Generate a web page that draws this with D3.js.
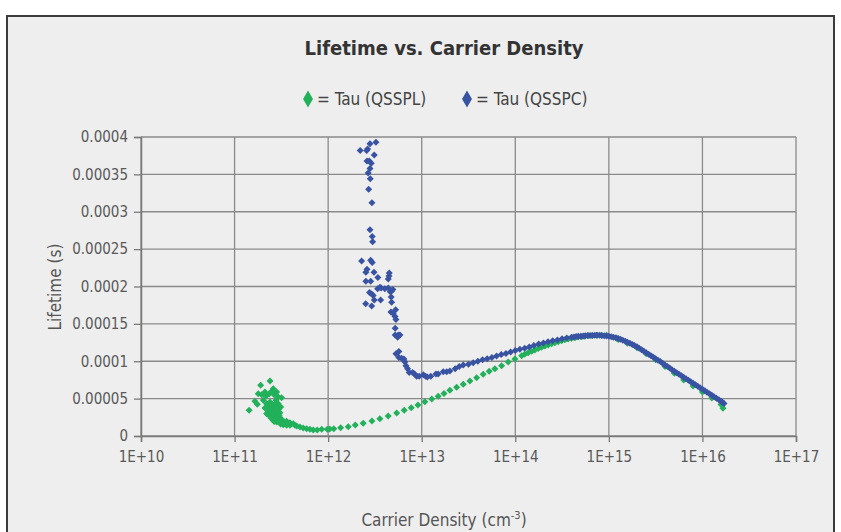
<!DOCTYPE html>
<html lang="en">
<head>
<meta charset="utf-8">
<title>Lifetime vs. Carrier Density</title>
<script src="https://cdnjs.cloudflare.com/ajax/libs/d3/7.8.5/d3.min.js"></script>
<style>
  body { margin: 0; background: #fff; }
  svg { display: block; font-family: 'Liberation Sans Narrow', 'Arial Narrow', 'DejaVu Sans Condensed', sans-serif; }
  .grid line { stroke: #8a8a8a; stroke-width: 1.3; }
  .tick text { fill: #595959; font-size: 15px; }
</style>
</head>
<body>
<svg id="chart" width="841" height="532"></svg>
<script>
// tick values and labels
var xTicks = [1e10, 1e11, 1e12, 1e13, 1e14, 1e15, 1e16, 1e17];
var xTickLabels = ["1E+10", "1E+11", "1E+12", "1E+13", "1E+14", "1E+15", "1E+16", "1E+17"];
var yTicks = [0, 0.00005, 0.0001, 0.00015, 0.0002, 0.00025, 0.0003, 0.00035, 0.0004];
var yTickLabels = ["0", "0.00005", "0.0001", "0.00015", "0.0002", "0.00025", "0.0003", "0.00035", "0.0004"];

var seriesNames = ["= Tau (QSSPL)", "= Tau (QSSPC)"];

// Tau (QSSPL): [carrier density cm^-3, lifetime s]
var qssplPoints = [
  [1.43e11, 3.44e-5], [1.65e11, 4.64e-5], [1.75e11, 4.24e-5], [1.90e11, 6.78e-5], [2.39e11, 7.36e-5],
  [1.79e11, 5.66e-5], [1.95e11, 5.53e-5], [2.11e11, 5.89e-5], [2.17e11, 5.35e-5], [2.35e11, 5.66e-5],
  [2.49e11, 5.98e-5], [2.59e11, 6.33e-5], [2.65e11, 5.53e-5], [2.82e11, 5.89e-5], [2.93e11, 5.22e-5],
  [3.18e11, 5.12e-5], [2.03e11, 4.78e-5], [2.20e11, 4.32e-5], [2.39e11, 4.55e-5], [2.59e11, 4.11e-5],
  [2.77e11, 4.78e-5], [2.93e11, 4.32e-5], [2.11e11, 3.75e-5], [2.29e11, 3.30e-5], [2.49e11, 3.65e-5],
  [2.70e11, 3.30e-5], [2.93e11, 3.57e-5], [3.11e11, 3.88e-5], [2.20e11, 2.98e-5], [2.43e11, 2.85e-5],
  [2.63e11, 2.98e-5], [2.86e11, 2.77e-5], [3.05e11, 3.12e-5], [2.59e11, 2.10e-5], [2.82e11, 1.87e-5],
  [3.05e11, 2.31e-5], [3.31e11, 1.87e-5], [3.60e11, 1.97e-5], [3.91e11, 1.78e-5], [4.24e11, 1.65e-5],
  [4.42e11, 1.43e-5], [3.31e11, 1.51e-5], [3.60e11, 1.43e-5], [3.91e11, 1.43e-5], [4.61e11, 1.34e-5],
  [5.00e11, 1.20e-5], [5.42e11, 1.07e-5], [5.89e11, 0.98e-5], [6.39e11, 0.90e-5], [6.93e11, 0.80e-5],
  [7.65e11, 0.80e-5], [2.70e11, 2.54e-5], [2.93e11, 2.41e-5],
  [2.30e11, 4.0e-5], [2.50e11, 4.2e-5], [2.70e11, 3.9e-5], [2.55e11, 3.4e-5], [2.75e11, 3.6e-5],
  [2.40e11, 3.2e-5], [2.60e11, 2.6e-5], [2.45e11, 2.4e-5], [2.80e11, 2.3e-5], [2.35e11, 2.7e-5],
  [3.00e11, 2.7e-5], [2.65e11, 1.95e-5], [3.20e11, 2.2e-5], [3.40e11, 1.7e-5], [3.10e11, 1.6e-5],
  [3.70e11, 1.6e-5], [2.55e11, 3.0e-5], [2.40e11, 3.6e-5], [2.85e11, 4.1e-5], [2.75e11, 4.4e-5],
  [8.53e11, 0.90e-5], [9.78e11, 0.90e-5], [1.04e12, 0.94e-5], [1.15e12, 0.98e-5], [1.36e12, 1.11e-5],
  [1.64e12, 1.24e-5], [1.95e12, 1.47e-5], [2.37e12, 1.70e-5], [2.94e12, 2.01e-5], [3.57e12, 2.31e-5],
  [4.38e12, 2.68e-5], [5.40e12, 3.08e-5], [6.50e12, 3.44e-5], [7.73e12, 3.79e-5], [9.11e12, 4.15e-5],
  [1.08e13, 4.59e-5], [1.28e13, 4.95e-5], [1.50e13, 5.31e-5], [1.73e13, 5.69e-5], [2.00e13, 6.11e-5],
  [2.36e13, 6.51e-5], [2.78e13, 6.91e-5], [3.27e13, 7.36e-5], [3.86e13, 7.80e-5], [4.54e13, 8.26e-5],
  [5.26e13, 8.66e-5], [6.05e13, 9.00e-5], [7.14e13, 9.41e-5], [8.40e13, 9.90e-5], [9.91e13, 10.30e-5],
  [1.17e14, 10.74e-5], [1.37e14, 11.15e-5], [1.62e14, 11.51e-5], [1.91e14, 11.87e-5], [2.25e14, 12.18e-5],
  [2.65e14, 12.48e-5], [3.13e14, 12.75e-5], [3.67e14, 12.98e-5], [4.34e14, 13.15e-5], [5.11e14, 13.29e-5],
  [6.01e14, 13.42e-5], [7.39e14, 13.47e-5], [9.45e14, 13.47e-5], [1.21e15, 13.07e-5],
  [1.26e14, 10.95e-5], [1.50e14, 11.33e-5], [1.76e14, 11.70e-5], [2.07e14, 12.03e-5], [2.45e14, 12.34e-5],
  [2.88e14, 12.62e-5], [3.39e14, 12.87e-5], [3.98e14, 13.07e-5], [4.68e14, 13.23e-5], [5.50e14, 13.36e-5],
  [6.61e14, 13.45e-5], [8.32e14, 13.48e-5],
  [1.26e15, 12.9e-5], [1.58e15, 12.4e-5], [2.00e15, 11.8e-5], [2.51e15, 11.0e-5], [3.16e15, 10.2e-5],
  [3.98e15, 9.3e-5], [5.01e15, 8.4e-5], [6.31e15, 7.5e-5], [7.94e15, 6.7e-5], [1.00e16, 5.9e-5],
  [1.26e16, 5.1e-5], [1.58e16, 4.2e-5], [1.66e16, 3.7e-5]
];

// Tau (QSSPC): [carrier density cm^-3, lifetime s]
var qsspcPoints = [
  [3.24e12, 3.93e-4], [2.80e12, 3.91e-4], [2.20e12, 3.82e-4], [2.58e12, 3.82e-4], [2.64e12, 3.84e-4],
  [3.11e12, 3.76e-4], [2.60e12, 3.68e-4], [2.75e12, 3.68e-4], [2.89e12, 3.65e-4], [2.80e12, 3.58e-4],
  [2.68e12, 3.52e-4], [2.82e12, 3.44e-4], [2.71e12, 3.30e-4], [2.94e12, 3.12e-4], [2.80e12, 2.76e-4],
  [2.96e12, 2.67e-4], [2.99e12, 2.60e-4],
  [2.28e12, 2.34e-4], [2.85e12, 2.35e-4], [2.96e12, 2.32e-4], [2.60e12, 2.23e-4], [2.53e12, 2.19e-4],
  [3.09e12, 2.19e-4], [3.40e12, 2.12e-4], [4.50e12, 2.18e-4], [4.47e12, 2.14e-4], [4.39e12, 2.10e-4],
  [2.53e12, 2.07e-4], [2.85e12, 2.07e-4], [3.38e12, 1.97e-4], [3.58e12, 1.99e-4], [3.69e12, 1.98e-4],
  [4.04e12, 1.97e-4], [4.39e12, 1.98e-4], [4.61e12, 1.93e-4], [4.77e12, 1.94e-4], [4.92e12, 1.96e-4],
  [2.77e12, 1.92e-4], [2.92e12, 1.90e-4], [3.03e12, 1.88e-4], [3.11e12, 1.82e-4], [3.64e12, 1.82e-4],
  [2.52e12, 1.77e-4], [2.92e12, 1.74e-4], [4.72e12, 1.86e-4], [4.77e12, 1.79e-4], [5.26e12, 1.69e-4],
  [4.69e12, 1.66e-4], [4.96e12, 1.64e-4], [5.18e12, 1.60e-4], [5.30e12, 1.56e-4], [5.21e12, 1.44e-4],
  [5.21e12, 1.35e-4], [5.61e12, 1.35e-4], [5.85e12, 1.35e-4], [5.53e12, 1.32e-4], [5.30e12, 1.10e-4],
  [5.70e12, 1.13e-4], [5.70e12, 1.05e-4], [6.09e12, 1.04e-4], [6.45e12, 1.03e-4], [6.62e12, 9.9e-5],
  [6.78e12, 9.4e-5], [7.07e12, 9.0e-5], [7.36e12, 8.5e-5], [8.00e12, 8.5e-5], [8.40e12, 8.3e-5],
  [8.83e12, 8.0e-5], [9.40e12, 8.0e-5], [1.04e13, 8.2e-5], [1.10e13, 8.0e-5], [1.15e13, 7.9e-5],
  [1.25e13, 8.0e-5], [1.42e13, 8.3e-5], [1.50e13, 8.3e-5], [1.70e13, 8.6e-5], [1.85e13, 8.6e-5],
  [2.00e13, 8.7e-5], [2.28e13, 9.0e-5], [2.52e13, 9.3e-5], [2.78e13, 9.5e-5],
  [3.16e13, 9.6e-5], [3.55e13, 9.8e-5], [3.98e13, 1.00e-4], [4.47e13, 1.02e-4], [5.01e13, 1.035e-4],
  [5.62e13, 1.05e-4], [6.31e13, 1.07e-4], [7.08e13, 1.09e-4], [7.94e13, 1.105e-4], [8.91e13, 1.125e-4],
  [1.00e14, 1.145e-4], [1.12e14, 1.16e-4], [1.26e14, 1.175e-4], [1.41e14, 1.19e-4], [1.58e14, 1.21e-4],
  [1.78e14, 1.23e-4], [2.00e14, 1.245e-4], [2.24e14, 1.26e-4], [2.51e14, 1.275e-4], [2.82e14, 1.285e-4],
  [3.16e14, 1.30e-4], [3.55e14, 1.31e-4], [3.98e14, 1.32e-4], [4.47e14, 1.33e-4], [5.01e14, 1.335e-4],
  [5.62e14, 1.34e-4], [6.31e14, 1.345e-4], [7.08e14, 1.347e-4], [7.94e14, 1.347e-4], [8.91e14, 1.342e-4],
  [4.22e14, 1.325e-4], [4.73e14, 1.333e-4], [5.31e14, 1.338e-4], [5.96e14, 1.343e-4], [6.68e14, 1.346e-4],
  [7.50e14, 1.347e-4], [8.41e14, 1.345e-4], [9.44e14, 1.338e-4],
  [1.00e15, 1.335e-4], [1.12e15, 1.32e-4], [1.26e15, 1.305e-4], [1.41e15, 1.28e-4], [1.58e15, 1.255e-4],
  [1.78e15, 1.225e-4], [2.00e15, 1.195e-4], [2.24e15, 1.155e-4], [2.51e15, 1.115e-4], [2.82e15, 1.075e-4],
  [3.16e15, 1.035e-4], [3.55e15, 9.95e-5], [3.98e15, 9.5e-5], [4.47e15, 9.1e-5], [5.01e15, 8.65e-5],
  [5.62e15, 8.25e-5], [6.31e15, 7.85e-5], [7.08e15, 7.45e-5], [7.94e15, 7.05e-5], [8.91e15, 6.65e-5],
  [1.00e16, 6.25e-5], [1.12e16, 5.85e-5], [1.26e16, 5.45e-5], [1.41e16, 5.05e-5], [1.58e16, 4.65e-5],
  [1.70e16, 4.35e-5],
  [1.06e15, 1.328e-4], [1.19e15, 1.313e-4], [1.33e15, 1.293e-4], [1.50e15, 1.268e-4], [1.68e15, 1.240e-4],
  [1.88e15, 1.210e-4], [2.11e15, 1.175e-4], [2.37e15, 1.135e-4], [2.66e15, 1.095e-4], [2.99e15, 1.055e-4],
  [3.35e15, 1.015e-4], [3.76e15, 9.72e-5], [4.22e15, 9.30e-5], [4.73e15, 8.87e-5], [5.31e15, 8.45e-5],
  [5.96e15, 8.05e-5], [6.68e15, 7.65e-5], [7.50e15, 7.25e-5], [8.41e15, 6.85e-5], [9.44e15, 6.45e-5],
  [1.06e16, 6.05e-5], [1.19e16, 5.65e-5], [1.33e16, 5.25e-5], [1.50e16, 4.85e-5], [1.64e16, 4.50e-5]
];

var green = "#22b15a";
var blue = "#3953a3";

var svg = d3.select("#chart");

// outer frame
svg.append("rect")
  .attr("x", 7).attr("y", 16)
  .attr("width", 827).attr("height", 530)
  .attr("fill", "#eeeeee")
  .attr("stroke", "#3c3c3c")
  .attr("stroke-width", 2);

// plot area edges (top is taken by window.top, so use other names)
var plotLeft = 141, plotRight = 796, plotTop = 137, plotBottom = 436;

var x = d3.scaleLog().domain([1e10, 1e17]).range([plotLeft, plotRight]);
var y = d3.scaleLinear().domain([0, 0.0004]).range([plotBottom, plotTop]);

// gridlines
svg.append("g").attr("class", "grid")
  .selectAll("line").data(xTicks).enter().append("line")
  .attr("x1", d => x(d)).attr("x2", d => x(d))
  .attr("y1", plotTop).attr("y2", plotBottom);

svg.append("g").attr("class", "grid")
  .selectAll("line").data(yTicks).enter().append("line")
  .attr("x1", plotLeft).attr("x2", plotRight)
  .attr("y1", d => y(d)).attr("y2", d => y(d));

// axes
var xAxis = d3.axisBottom(x)
  .tickValues(xTicks)
  .tickFormat((d, i) => xTickLabels[i])
  .tickSize(6)
  .tickPadding(9);

var yAxis = d3.axisLeft(y)
  .tickValues(yTicks)
  .tickFormat((d, i) => yTickLabels[i])
  .tickSize(7)
  .tickPadding(6);

var gx = svg.append("g").attr("transform", "translate(0," + plotBottom + ")").call(xAxis);
var gy = svg.append("g").attr("transform", "translate(" + plotLeft + ",0)").call(yAxis);
[gx, gy].forEach(function(g) {
  g.attr("font-family", null).attr("font-size", null);
  g.select(".domain").attr("stroke", "#7a7a7a").attr("stroke-width", 1.5);
  g.selectAll(".tick line").attr("stroke", "#7a7a7a").attr("stroke-width", 1.3);
});

// markers
var diamond = "M0,-3.5L3.5,0L0,3.5L-3.5,0Z";

svg.append("g").selectAll("path").data(qssplPoints).enter().append("path")
  .attr("d", diamond)
  .attr("fill", green)
  .attr("transform", d => "translate(" + x(d[0]) + "," + y(d[1]) + ")");

svg.append("g").selectAll("path").data(qsspcPoints).enter().append("path")
  .attr("d", diamond)
  .attr("fill", blue)
  .attr("transform", d => "translate(" + x(d[0]) + "," + y(d[1]) + ")");

// title
svg.append("text")
  .attr("x", 444).attr("y", 55)
  .attr("text-anchor", "middle")
  .attr("font-size", 20).attr("font-weight", "bold")
  .attr("fill", "#333")
  .text("Lifetime vs. Carrier Density");

// legend
var legendItems = [
  {name: seriesNames[0], color: green, x: 308},
  {name: seriesNames[1], color: blue, x: 467}
];
var legend = svg.append("g").selectAll("g").data(legendItems).enter().append("g")
  .attr("transform", d => "translate(" + d.x + ",99)");
legend.append("path")
  .attr("d", d3.symbol().type(d3.symbolDiamond).size(85))
  .attr("fill", d => d.color);
legend.append("text")
  .attr("x", 9).attr("y", 6)
  .attr("font-size", 17)
  .attr("fill", "#444")
  .text(d => d.name);

// axis titles
var xTitle = svg.append("text")
  .attr("x", 444).attr("y", 526)
  .attr("text-anchor", "middle")
  .attr("font-size", 17)
  .attr("fill", "#555");
xTitle.append("tspan").text("Carrier Density (cm");
xTitle.append("tspan").attr("dy", -7).attr("font-size", 11).text("-3");
xTitle.append("tspan").attr("dy", 7).text(")");

svg.append("text")
  .attr("transform", "translate(61,287) rotate(-90)")
  .attr("text-anchor", "middle")
  .attr("font-size", 17)
  .attr("fill", "#555")
  .text("Lifetime (s)");
</script>
</body>
</html>
